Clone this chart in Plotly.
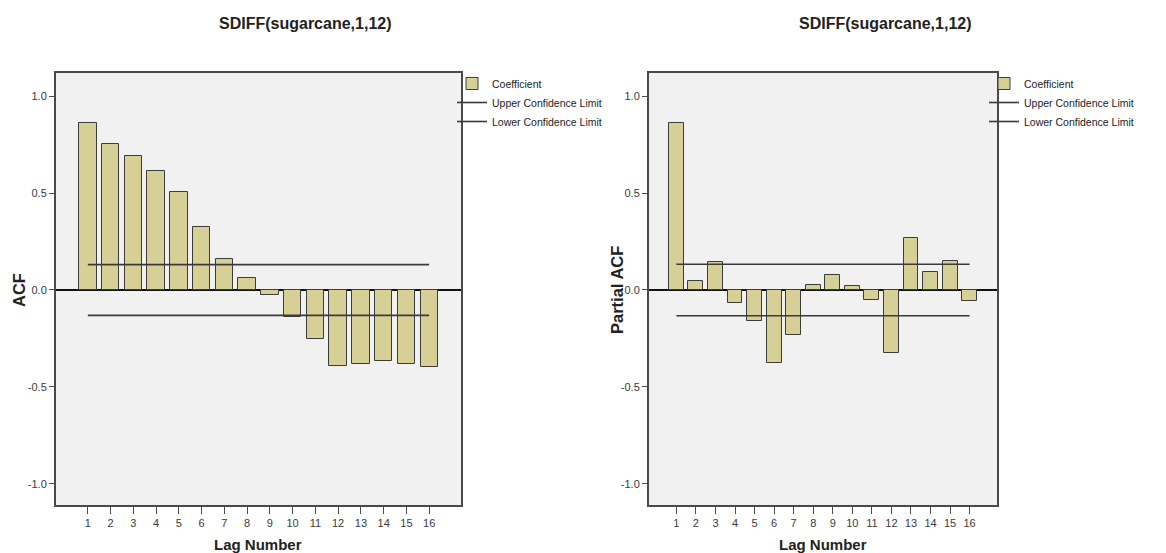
import plotly.graph_objects as go

W, H = 1166, 553

lags = list(range(1, 17))
acf_vals = [0.861, 0.751, 0.689, 0.613, 0.505, 0.326, 0.158, 0.062, -0.027, -0.137,
            -0.254, -0.392, -0.383, -0.368, -0.381, -0.397]
pacf_vals = [0.860, 0.046, 0.145, -0.065, -0.158, -0.377, -0.231, 0.026, 0.075, 0.021,
             -0.050, -0.326, 0.267, 0.094, 0.152, -0.055]
acf_upper = [0.131] * 16
acf_lower = [-0.131] * 16
pacf_upper = [0.133] * 16
pacf_lower = [-0.133] * 16

title_text = "SDIFF(sugarcane,1,12)"
y_ticks = [-1.0, -0.5, 0.0, 0.5, 1.0]
y_tick_text = ["-1.0", "-0.5", "0.0", "0.5", "1.0"]

BAR_FILL = "#d6d097"
BAR_EDGE = "#3c3c3c"
LINE_COL = "#3a3a3a"
FRAME = "#4a4a4a"
PLOT_BG = "#f0f1f0"
NARROW = "Liberation Sans Narrow, Arial Narrow, Liberation Sans, Arial, sans-serif"
BOLD = "Liberation Sans, Arial, sans-serif"


def px(x):
    return x / W


def py(y):
    return 1 - y / H


fig = go.Figure()

panels = [
    dict(xa="x", ya="y", vals=acf_vals, up=acf_upper, lo=acf_lower, legend="legend"),
    dict(xa="x2", ya="y2", vals=pacf_vals, up=pacf_upper, lo=pacf_lower, legend="legend2"),
]

for p in panels:
    fig.add_trace(go.Bar(
        x=lags, y=p["vals"], width=0.76, name="Coefficient",
        marker=dict(color=BAR_FILL, line=dict(color=BAR_EDGE, width=1)),
        xaxis=p["xa"], yaxis=p["ya"], legend=p["legend"], showlegend=True,
    ))
    fig.add_trace(go.Scatter(
        x=lags, y=p["up"], mode="lines", name="Upper Confidence Limit",
        line=dict(color=LINE_COL, width=1.6),
        xaxis=p["xa"], yaxis=p["ya"], legend=p["legend"],
    ))
    fig.add_trace(go.Scatter(
        x=lags, y=p["lo"], mode="lines", name="Lower Confidence Limit",
        line=dict(color=LINE_COL, width=1.6),
        xaxis=p["xa"], yaxis=p["ya"], legend=p["legend"],
    ))

y_top, y_bot = 73, 505
yd = [py(y_bot), py(y_top)]

xaxis_common = dict(
    range=[-0.4, 17.4], tickmode="array", tickvals=lags, ticktext=[str(l) for l in lags],
    ticks="outside", ticklen=7, tickcolor=FRAME, tickwidth=1.2,
    showline=True, linecolor=FRAME, linewidth=2, mirror=True,
    showgrid=False, zeroline=False, fixedrange=True,
    tickfont=dict(family=NARROW, size=11, color="#3a3a3a"),
)
yaxis_common = dict(
    range=[-1.11, 1.12], tickmode="array", tickvals=y_ticks, ticktext=y_tick_text,
    ticks="outside", ticklen=5, tickcolor=FRAME, tickwidth=1.2,
    showline=True, linecolor=FRAME, linewidth=2, mirror=True,
    showgrid=False, zeroline=True, zerolinecolor="#111111", zerolinewidth=1.6,
    tickfont=dict(family=NARROW, size=11, color="#3a3a3a"),
    domain=yd,
)

legend_common = dict(xanchor="left", yanchor="top", bgcolor="rgba(0,0,0,0)",
                     font=dict(family=NARROW, size=10.5, color="#222222"),
                     tracegroupgap=0, itemwidth=30)

fig.update_layout(
    width=W, height=H, margin=dict(l=0, r=0, t=0, b=0),
    paper_bgcolor="white", plot_bgcolor=PLOT_BG,
    bargap=0,
    xaxis=dict(**xaxis_common, domain=[px(56), px(461)], anchor="y"),
    yaxis=dict(**yaxis_common, anchor="x"),
    xaxis2=dict(**xaxis_common, domain=[px(649), px(997)], anchor="y2"),
    yaxis2=dict(**yaxis_common, anchor="x2"),
    legend=dict(x=px(452), y=py(69), **legend_common),
    legend2=dict(x=px(984), y=py(69), **legend_common),
    showlegend=True,
)

annotations = [
    dict(text="<b>" + title_text + "</b>", x=px(305), y=py(24), xref="paper", yref="paper",
         showarrow=False, font=dict(family=BOLD, size=16, color="#222222"),
         xanchor="center", yanchor="middle"),
    dict(text="<b>" + title_text + "</b>", x=px(885), y=py(24), xref="paper", yref="paper",
         showarrow=False, font=dict(family=BOLD, size=16, color="#222222"),
         xanchor="center", yanchor="middle"),
    dict(text="<b>ACF</b>", x=px(19), y=py(290), xref="paper", yref="paper",
         showarrow=False, textangle=-90, font=dict(family=BOLD, size=16.5, color="#222222"),
         xanchor="center", yanchor="middle"),
    dict(text="<b>Partial ACF</b>", x=px(617), y=py(290), xref="paper", yref="paper",
         showarrow=False, textangle=-90, font=dict(family=BOLD, size=16.5, color="#222222"),
         xanchor="center", yanchor="middle"),
    dict(text="<b>Lag Number</b>", x=px(258), y=py(544), xref="paper", yref="paper",
         showarrow=False, font=dict(family=BOLD, size=15, color="#222222"),
         xanchor="center", yanchor="middle"),
    dict(text="<b>Lag Number</b>", x=px(823), y=py(544), xref="paper", yref="paper",
         showarrow=False, font=dict(family=BOLD, size=15, color="#222222"),
         xanchor="center", yanchor="middle"),
]
fig.update_layout(annotations=annotations)

fig.write_html("out.html")
